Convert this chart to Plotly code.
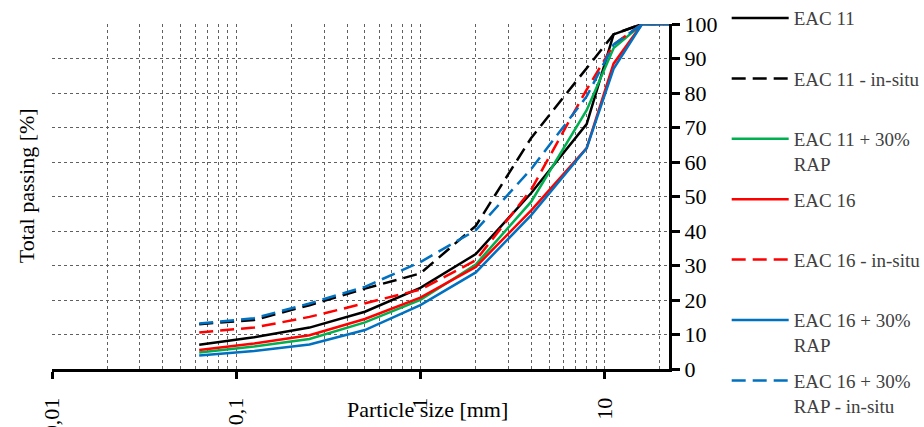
import plotly.graph_objects as go

sieve = [0.063, 0.125, 0.25, 0.5, 1, 2, 4, 8, 11.2, 16, 22.4]

eac11 = [7.0, 9.2, 12.0, 16.6, 23.5, 33.3, 51.0, 71.0, 97.0, 100, 100]
eac11_insitu = [13.0, 14.2, 18.5, 23.3, 27.7, 41.5, 67.0, 87.0, 97.0, 100, 100]
eac11_rap = [4.8, 6.5, 8.7, 13.5, 20.0, 30.3, 48.5, 75.0, 93.0, 100, 100]
eac16 = [5.5, 7.4, 9.8, 14.5, 20.7, 29.6, 46.0, 64.0, 88.5, 100, 100]
eac16_insitu = [10.6, 12.0, 15.1, 19.0, 23.0, 31.5, 52.0, 81.0, 94.0, 100, 100]
eac16_rap = [3.9, 5.2, 7.1, 11.3, 18.5, 28.0, 44.6, 64.0, 87.0, 100, 100]
eac16_rap_insitu = [13.2, 14.7, 19.0, 23.8, 31.0, 40.2, 58.0, 79.0, 94.0, 100, 100]

names = ["EAC 11", "EAC 11 - in-situ", "EAC 11 + 30%<br>RAP", "EAC 16",
         "EAC 16 - in-situ", "EAC 16 + 30%<br>RAP", "EAC 16 + 30%<br>RAP - in-situ"]
series = [eac11, eac11_insitu, eac11_rap, eac16, eac16_insitu, eac16_rap, eac16_rap_insitu]
colors = ["#000000", "#000000", "#00B050", "#FF0000", "#FF0000", "#0070C0", "#0070C0"]
dashes = ["solid", "14px,7px", "solid", "solid", "14px,7px", "solid", "14px,7px"]

x_ticks = [0.01, 0.1, 1, 10]
x_ticktext = ["0,01", "0,1", "1", "10"]
x_minor = [0.02, 0.03, 0.04, 0.05, 0.06, 0.07, 0.08, 0.09,
           0.2, 0.3, 0.4, 0.5, 0.6, 0.7, 0.8, 0.9,
           2, 3, 4, 5, 6, 7, 8, 9, 20]
y_ticks = list(range(0, 101, 10))

fig = go.Figure()
for i, (nm, ys, c, d) in enumerate(zip(names, series, colors, dashes)):
    label = nm if "<br>" in nm else nm + "<br>\u00a0"
    fig.add_trace(go.Scatter(x=sieve, y=ys, mode="lines", name=label,
                             line=dict(color=c, width=2.5, dash=d),
                             legendgroup="g%d" % i))

font = "Liberation Serif"
grid = dict(showgrid=True, gridcolor="#606060", gridwidth=1, griddash="dot")
fig.update_layout(
    width=924, height=427,
    margin=dict(l=52, r=255, t=24, b=58, autoexpand=False),
    plot_bgcolor="white", paper_bgcolor="white",
    font=dict(family=font, size=22, color="black"),
    showlegend=True,
    legend=dict(x=1.0935, y=1.072, xanchor="left", yanchor="top",
                font=dict(family=font, size=19, color="#404040"),
                tracegroupgap=8, valign="top", itemwidth=57, maxheight=800,
                bgcolor="rgba(0,0,0,0)"),
    xaxis=dict(type="log", range=[-2, 1.3502], tickvals=x_ticks, ticktext=x_ticktext,
               tickangle=-90, ticks="outside", ticklen=7, tickwidth=3, tickcolor="black",
               ticklabelstandoff=10,
               tickfont=dict(family=font, size=22, color="black"),
               showline=True, linecolor="black", linewidth=3, automargin=False,
               minor=dict(tickvals=x_minor, showgrid=True, gridcolor="#606060",
                          gridwidth=1, griddash="dot", ticks=""),
               zeroline=False, **grid),
    yaxis=dict(side="right", range=[0, 100], tickvals=y_ticks, ticks="outside",
               ticklen=8, tickwidth=3, tickcolor="black", automargin=False,
               tickfont=dict(family=font, size=22, color="black"),
               showline=True, linecolor="black", linewidth=3,
               zeroline=False, **grid),
    annotations=[dict(text="Total passing [%]", xref="paper", yref="paper",
                      x=-0.042, y=0.53, textangle=-90, showarrow=False,
                      xanchor="center", yanchor="middle",
                      font=dict(family=font, size=22, color="black")),
                 dict(text="Particle size [mm]", xref="paper", yref="paper",
                      x=(427 - 52) / 617, y=-41 / 345, showarrow=False,
                      xanchor="center", yanchor="middle",
                      font=dict(family=font, size=22, color="black"))],
)
fig.write_html("out.html", post_script="document.body.style.margin='0px';",
               config={"displayModeBar": False})
